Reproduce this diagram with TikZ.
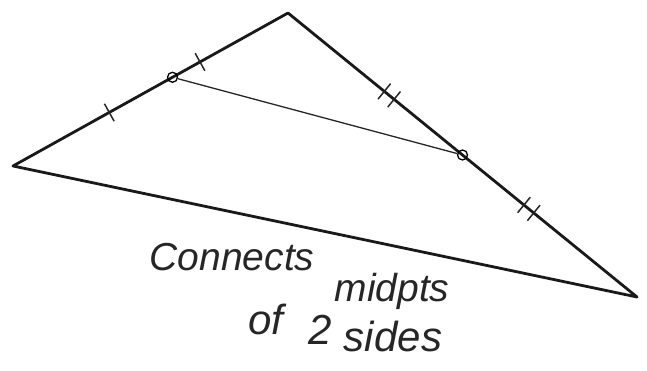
\documentclass[tikz,border=0pt]{standalone}
\usepackage{fontspec}
\setmainfont{Liberation Sans}
\usetikzlibrary{calc}
\begin{document}
\begin{tikzpicture}[x=1pt,y=-1pt,
  side/.style={line width=2.8pt,line join=round,black!90},
  midseg/.style={line width=1.3pt,black!85},
  tick/.style={line width=1.5pt,black!85},
  midpt/.style={circle,draw,line width=1.3pt,inner sep=0pt,minimum size=10pt},
  hand/.style={font=\fontsize{39}{44}\selectfont\itshape,text=black!85,inner sep=0pt},
  handb/.style={font=\fontsize{42}{46}\selectfont\itshape,text=black!85,inner sep=0pt}]
\useasboundingbox (0,0) rectangle (647,371);
\coordinate (A) at (288,13);
\coordinate (B) at (13,166);
\coordinate (C) at (637,297);
\draw[side] (A) -- (B) -- (C) -- cycle;
\node[midpt] (M1) at ($(B)!0.58!(A)$) {};
\node[midpt] (M2) at ($(A)!0.50!(C)$) {};
\draw[midseg] (M1) -- (M2);
% single ticks on left side
\draw[tick] ($(B)!0.35!(A)!10pt!90:(A)$) -- ($(B)!0.35!(A)!10pt!-90:(A)$);
\draw[tick] ($(B)!0.68!(A)!10pt!90:(A)$) -- ($(B)!0.68!(A)!10pt!-90:(A)$);
% double ticks on right side
\foreach \f in {0.29,0.69}{
  \draw[tick] ($(A)!\f-0.014!(C)!10pt!90:(C)$) -- ($(A)!\f-0.014!(C)!10pt!-90:(C)$);
  \draw[tick] ($(A)!\f+0.014!(C)!10pt!90:(C)$) -- ($(A)!\f+0.014!(C)!10pt!-90:(C)$);
}
\node[hand] (w1) at (232,257) {Connects};
\node[hand] (w2) at (392,291) {midpts};
\node[handb] (w3) at (266,319) {of};
\node[handb] (w4) at (320,330) {2};
\node[handb] (w5) at (393,336) {sides};
\end{tikzpicture}
\end{document}
